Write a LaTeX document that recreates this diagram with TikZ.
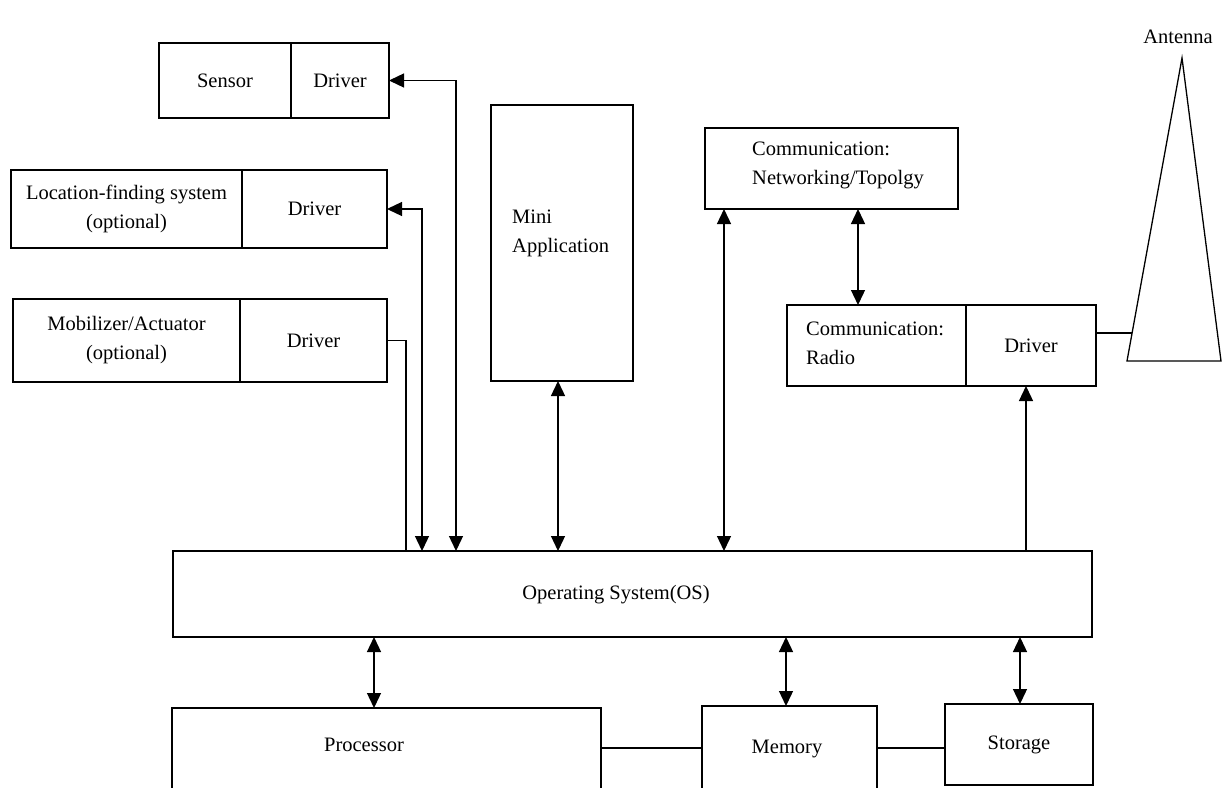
\documentclass[tikz,border=0pt]{standalone}
\usepackage{fontspec}
\setmainfont{Liberation Serif}
\usetikzlibrary{arrows.meta}
\begin{document}
\begin{tikzpicture}[x=1pt,y=-1pt,
  lbl/.style={font=\fontsize{20.5}{29}\selectfont},
  box/.style={draw, line width=1.3pt, inner sep=0pt, outer sep=0pt, anchor=north west, lbl, align=center},
  txt/.style={inner sep=0pt, lbl, align=left},
  conn/.style={line width=1.3pt, >={Triangle[length=15pt,width=14pt]}}
]
\useasboundingbox (0,0) rectangle (1222,787);
\fill[white] (0,0) rectangle (1222,787);
\clip (0,0) rectangle (1222,787);

% left column
\node[box, minimum width=132pt, minimum height=75pt] (sensor) at (159,43) {Sensor};
\node[box, minimum width=98pt, minimum height=75pt] (sensordrv) at (291,43) {Driver};
\node[box, minimum width=231pt, minimum height=78pt] (loc) at (11,170) {Location-finding system\\(optional)};
\node[box, minimum width=145pt, minimum height=78pt] (locdrv) at (242,170) {Driver};
\node[box, minimum width=227pt, minimum height=83pt] (mob) at (13,299) {Mobilizer/Actuator\\(optional)};
\node[box, minimum width=147pt, minimum height=83pt] (mobdrv) at (240,299) {Driver};

% mini application
\node[box, minimum width=142pt, minimum height=276pt] (mini) at (491,105) {};
\node[txt, anchor=west] (minitxt) at (512,233) {Mini\\Application};

% communication
\node[box, minimum width=253pt, minimum height=81pt] (net) at (705,128) {};
\node[txt, anchor=west] (nettxt) at (752,165) {Communication:\\Networking/Topolgy};
\node[box, minimum width=179pt, minimum height=81pt] (radio) at (787,305) {};
\node[txt, anchor=west] (radtxt) at (806,343) {Communication:\\Radio};
\node[box, minimum width=130pt, minimum height=81pt] (radiodrv) at (966,305) {Driver};

% antenna
\coordinate (apex) at (1182,58);
\coordinate (bl) at (1127,361);
\coordinate (br) at (1221,361);
\coordinate (ant) at (1132,333);
\draw[line width=1.3pt] (apex) -- (bl) -- (br) -- cycle;
\node[txt] (anttxt) at (1178,37) {Antenna};

% OS and hardware
\node[box, minimum width=919pt, minimum height=86pt] (os) at (173,551) {};
\node[txt] (ostxt) at (616,595) {Operating System(OS)};
\node[box, minimum width=429pt, minimum height=100pt] (proc) at (172,708) {};
\node[txt] (proctxt) at (364,745) {Processor};
\node[box, minimum width=175pt, minimum height=100pt] (mem) at (702,706) {};
\node[txt] (memtxt) at (787,749) {Memory};
\node[box, minimum width=148pt, minimum height=81pt] (stor) at (945,704) {Storage};

% x positions of vertical connectors
\coordinate (xmob) at (406,0);
\coordinate (xloc) at (422,0);
\coordinate (xsen) at (456,0);
\coordinate (xmini) at (558,0);
\coordinate (xnet) at (724,0);
\coordinate (xnr) at (858,0);
\coordinate (xrad) at (1026,0);
\coordinate (xproc) at (374,0);
\coordinate (xmem) at (786,0);
\coordinate (xstor) at (1020,0);
\coordinate (ybus) at (0,748);

% connectors
\draw[conn, <->] (xsen |- os.north) |- (sensordrv.east);
\draw[conn, <->] (xloc |- os.north) |- (locdrv.east);
\draw[conn] (mobdrv.east) -| (xmob |- os.north);
\draw[conn, <->] (xmini |- mini.south) -- (xmini |- os.north);
\draw[conn, <->] (xnet |- net.south) -- (xnet |- os.north);
\draw[conn, <->] (xnr |- net.south) -- (xnr |- radio.north);
\draw[conn, ->] (xrad |- os.north) -- (xrad |- radiodrv.south);
\draw[conn] (radiodrv.east |- ant) -- (ant);
\draw[conn, <->] (xproc |- os.south) -- (xproc |- proc.north);
\draw[conn, <->] (xmem |- os.south) -- (xmem |- mem.north);
\draw[conn, <->] (xstor |- os.south) -- (xstor |- stor.north);
\draw[conn] (proc.east |- ybus) -- (mem.west |- ybus);
\draw[conn] (mem.east |- ybus) -- (stor.west |- ybus);
\end{tikzpicture}
\end{document}
